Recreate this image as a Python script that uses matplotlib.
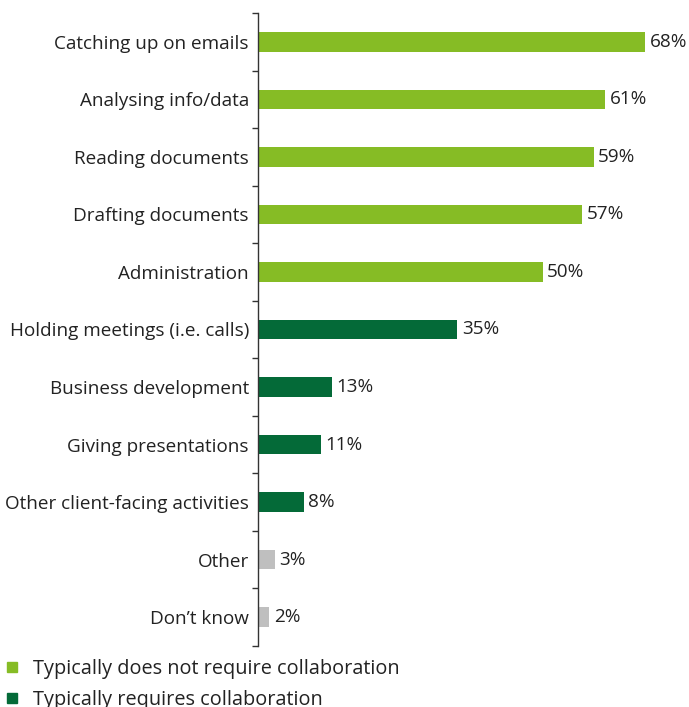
import matplotlib.pyplot as plt
from matplotlib.lines import Line2D
import numpy as np

plt.rcParams['font.family'] = ['Open Sans', 'DejaVu Sans']

activities = ['Catching up on emails', 'Analysing info/data', 'Reading documents',
              'Drafting documents', 'Administration', 'Holding meetings (i.e. calls)',
              'Business development', 'Giving presentations',
              'Other client-facing activities', 'Other', 'Don\u2019t know']
shares = [68, 61, 59, 57, 50, 35, 13, 11, 8, 3, 2]
groups = ['solo', 'solo', 'solo', 'solo', 'solo', 'collab', 'collab', 'collab',
          'collab', 'other', 'other']

LIGHT = '#86BC25'
DARK = '#046A38'
GREY = '#BFBFBF'
TEXT = '#222222'
palette = {'solo': LIGHT, 'collab': DARK, 'other': GREY}
FS = 13.6
LEG_FS = 14.3

fig = plt.figure(figsize=(6.89, 7.07), dpi=100)
W, H = 689, 707
ax = fig.add_axes([258 / W, 1 - 646 / H, 431 / W, 633 / H])

y = np.arange(len(activities))
ax.barh(y, shares, height=0.34, color=[palette[g] for g in groups])
for yi, v in zip(y, shares):
    ax.text(v + 0.8, yi, f'{v}%', va='center', ha='left', fontsize=FS, color=TEXT)

ax.set_xlim(0, 431 / 5.69)
ax.set_ylim(len(activities) - 0.5, -0.5)
ax.set_yticks(y)
ax.set_yticklabels(activities, fontsize=FS, color=TEXT)
ax.set_yticks(np.arange(-0.5, len(activities)), minor=True)
ax.tick_params(axis='y', which='major', length=0, pad=6.5)
ax.tick_params(axis='y', which='minor', length=4, width=1, color='#333333')
ax.set_xticks([])
for side in ['top', 'right', 'bottom']:
    ax.spines[side].set_visible(False)
ax.spines['left'].set_color('#333333')
ax.spines['left'].set_linewidth(1)

handles = [Line2D([], [], marker='s', linestyle='none', markersize=7.5, color=LIGHT),
           Line2D([], [], marker='s', linestyle='none', markersize=7.5, color=DARK)]
fig.legend(handles, ['Typically does not require collaboration',
                     'Typically requires collaboration'],
           loc='upper left', bbox_to_anchor=(0 / W, 1 - 659 / H), frameon=False,
           fontsize=LEG_FS, handlelength=1.2, handletextpad=0.45, labelspacing=0.55,
           borderpad=0, borderaxespad=0, labelcolor=TEXT)

fig.savefig('out.png', dpi=100)
